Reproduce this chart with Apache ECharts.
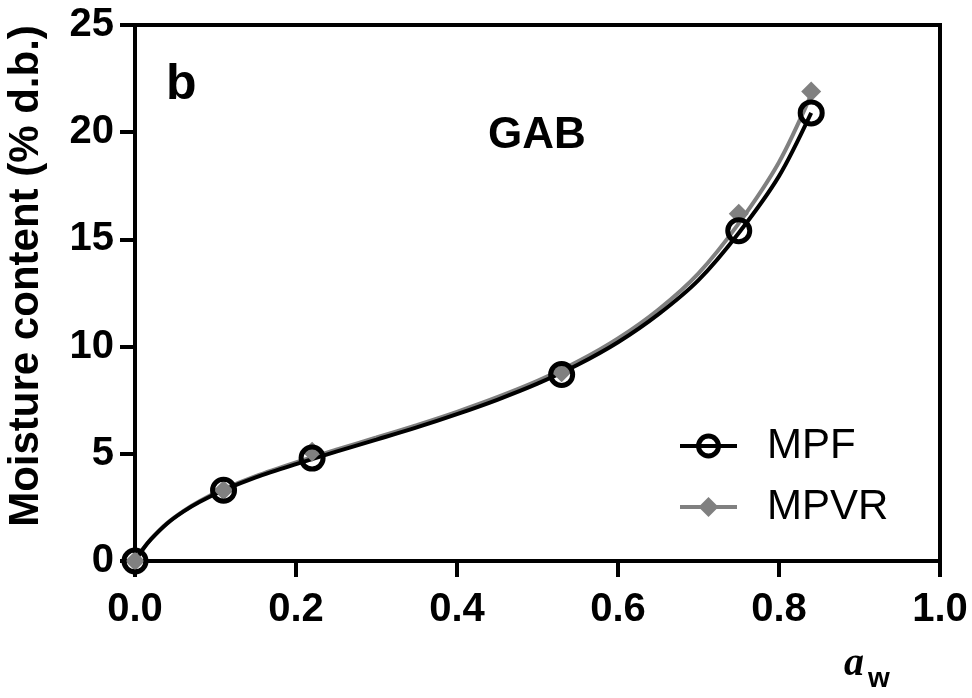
<!DOCTYPE html>
<html>
<head>
<meta charset="utf-8">
<script src="https://cdn.jsdelivr.net/npm/echarts@6/dist/echarts.min.js"></script>
<style>
  html, body { margin: 0; padding: 0; background: #fff; }
  #chart { width: 972px; height: 698px; }
</style>
</head>
<body>
<div id="chart"></div>
<script>
// measured points (water activity vs moisture content)
const awPoints = [0, 0.11, 0.22, 0.53, 0.75, 0.84];
const mpfPoints = [0, 3.3, 4.8, 8.7, 15.4, 20.9];
const mpvrPoints = [0, 3.3, 5.1, 8.8, 16.2, 21.9];

// GAB fitted curves
const fitAw = [0, 0.01, 0.02, 0.04, 0.06, 0.08, 0.11, 0.15, 0.2, 0.25, 0.3, 0.35, 0.4, 0.45, 0.5, 0.55, 0.6, 0.65, 0.7, 0.75, 0.8, 0.84];
const mpfFit = [0, 0.56, 1.02, 1.75, 2.3, 2.75, 3.3, 3.9, 4.52, 5.1, 5.66, 6.23, 6.85, 7.52, 8.27, 9.15, 10.2, 11.5, 13.1, 15.3, 17.95, 20.9];
const mpvrFit = [0, 0.56, 1.03, 1.77, 2.33, 2.79, 3.35, 3.96, 4.6, 5.19, 5.76, 6.34, 6.96, 7.64, 8.4, 9.3, 10.38, 11.72, 13.42, 15.75, 18.6, 21.75];

const xTicks = [0, 0.2, 0.4, 0.6, 0.8, 1.0];
const yTicks = [0, 5, 10, 15, 20, 25];

const font = "'Liberation Sans', Arial, sans-serif";
const pair = (xs, ys) => xs.map((x, i) => [x, ys[i]]);

const chart = echarts.init(document.getElementById('chart'));

const option = {
  animation: false,
  backgroundColor: '#fff',
  grid: {
    left: 135,
    right: 32,
    top: 25,
    bottom: 137,
    outerBoundsMode: 'none',
    show: true,
    borderColor: '#000',
    borderWidth: 4,
    backgroundColor: 'transparent'
  },
  xAxis: {
    type: 'value',
    min: xTicks[0],
    max: xTicks[xTicks.length - 1],
    interval: 0.2,
    axisLine: { lineStyle: { color: '#000', width: 4 } },
    axisTick: { length: 16, lineStyle: { color: '#000', width: 4 } },
    axisLabel: {
      margin: 29,
      color: '#000',
      fontFamily: font,
      fontWeight: 'bold',
      fontSize: 40,
      formatter: (v) => v.toFixed(1)
    },
    splitLine: { show: false }
  },
  yAxis: {
    type: 'value',
    min: yTicks[0],
    max: yTicks[yTicks.length - 1],
    interval: 5,
    name: 'Moisture content (% d.b.)',
    nameLocation: 'middle',
    nameGap: 88,
    nameTextStyle: {
      color: '#000',
      fontFamily: font,
      fontWeight: 'bold',
      fontSize: 42,
      padding: [0, 0, 0, 34]
    },
    axisLine: { lineStyle: { color: '#000', width: 4 } },
    axisTick: { length: 15, lineStyle: { color: '#000', width: 4 } },
    axisLabel: {
      margin: 21,
      color: '#000',
      fontFamily: font,
      fontWeight: 'bold',
      fontSize: 40
    },
    splitLine: { show: false }
  },
  legend: {
    data: [
      { name: 'MPF', lineStyle: { width: 4, color: '#000' }, itemStyle: { borderWidth: 5, borderColor: '#000', color: 'rgba(0,0,0,0)' } },
      { name: 'MPVR', lineStyle: { width: 4, color: '#808080' }, itemStyle: { color: '#808080', borderWidth: 0 } }
    ],
    orient: 'vertical',
    left: 678,
    top: 425,
    padding: 0,
    itemWidth: 57,
    itemHeight: 25,
    itemGap: 19,
    textStyle: {
      color: '#000',
      fontFamily: font,
      fontSize: 42,
      padding: [0, 0, 0, 25]
    }
  },
  graphic: [
    {
      type: 'text',
      left: 166,
      top: 60,
      style: { text: 'b', fill: '#000', font: 'bold 50px ' + font }
    },
    {
      type: 'text',
      x: 537,
      y: 136,
      style: { text: 'GAB', fill: '#000', font: 'bold 44px ' + font, textAlign: 'center', textVerticalAlign: 'middle' }
    },
    {
      type: 'text',
      x: 844,
      y: 665,
      style: { text: 'a', fill: '#000', font: "italic bold 40px 'Liberation Serif', 'Times New Roman', serif", textVerticalAlign: 'middle' }
    },
    {
      type: 'text',
      x: 868,
      y: 679,
      style: { text: 'w', fill: '#000', font: 'bold 28px ' + font, textVerticalAlign: 'middle' }
    }
  ],
  series: [
    {
      name: 'MPVR',
      type: 'line',
      data: pair(fitAw, mpvrFit),
      smooth: 0.3,
      symbol: 'diamond',
      showSymbol: false,
      z: 2,
      lineStyle: { color: '#808080', width: 4 },
      itemStyle: { color: '#808080' }
    },
    {
      name: 'MPF',
      type: 'line',
      data: pair(fitAw, mpfFit),
      smooth: 0.3,
      symbol: 'circle',
      showSymbol: false,
      z: 3,
      lineStyle: { color: '#000', width: 4 },
      itemStyle: { color: 'rgba(0,0,0,0)', borderColor: '#000', borderWidth: 5 }
    },
    {
      name: 'MPVR points',
      type: 'scatter',
      data: pair(awPoints, mpvrPoints),
      symbol: 'diamond',
      symbolSize: 20,
      z: 4,
      itemStyle: { color: '#808080', opacity: 1 }
    },
    {
      name: 'MPF points',
      type: 'scatter',
      data: pair(awPoints, mpfPoints),
      symbol: 'circle',
      symbolSize: 22,
      z: 5,
      itemStyle: { color: 'rgba(0,0,0,0)', borderColor: '#000', borderWidth: 5, opacity: 1 }
    }
  ]
};

chart.setOption(option);
</script>
</body>
</html>
